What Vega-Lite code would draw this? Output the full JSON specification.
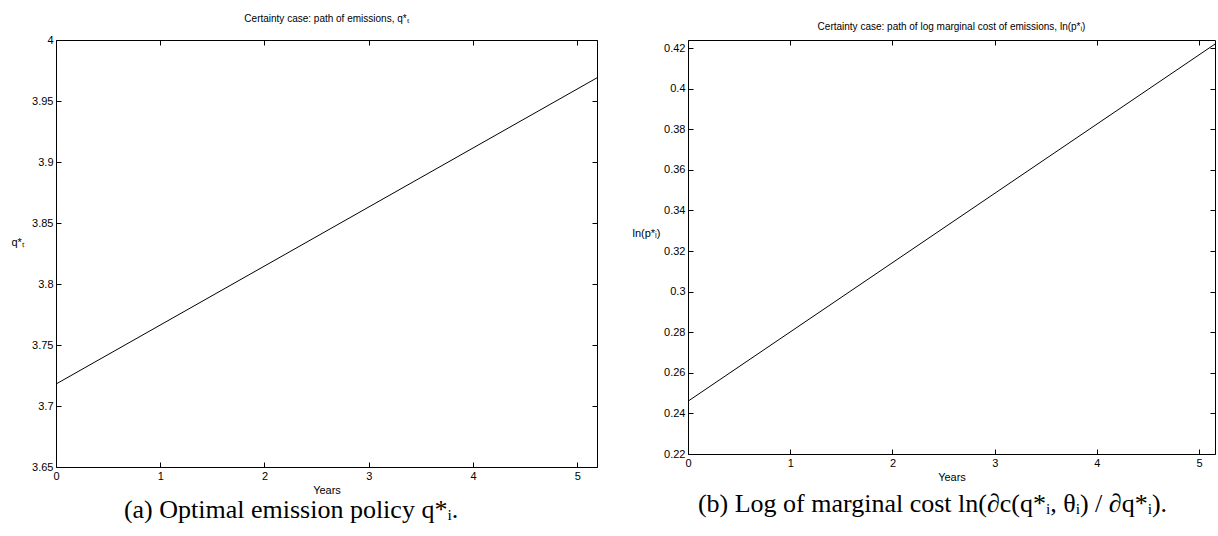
{
  "$schema": "https://vega.github.io/schema/vega-lite/v6.json",
  "padding": {"left": 10, "top": 8, "right": 0, "bottom": 0},
  "background": "white",
  "datasets": {
    "emis": [{"year": 0, "q": 3.718}, {"year": 5.19, "q": 3.969}],
    "cost": [{"year": 0, "lp": 0.246}, {"year": 5.155, "lp": 0.422}]
  },
  "config": {
    "view": {"stroke": "black", "strokeWidth": 1},
    "font": "Liberation Sans",
    "axis": {
      "grid": false,
      "domain": false,
      "tickColor": "black",
      "tickSize": -5,
      "labelFont": "Liberation Sans",
      "labelFontSize": 11,
      "labelColor": "black",
      "labelPadding": 8,
      "titleFont": "Liberation Sans",
      "titleFontSize": 11,
      "titleFontWeight": "normal",
      "titleColor": "black"
    },
    "title": {"font": "Liberation Sans", "fontSize": 10, "fontWeight": "normal", "color": "black"}
  },
  "spacing": 31,
  "hconcat": [
    {
      "title": {"text": "(a)  Optimal emission policy q*ᵢ.", "orient": "bottom", "anchor": "middle", "font": "Liberation Serif", "fontSize": 26, "offset": 1, "dx": -14},
      "vconcat": [
        {
          "title": {"text": "Certainty case: path of emissions, q*ₜ", "anchor": "middle", "offset": 10},
          "width": 541,
          "height": 427,
          "data": {"name": "emis"},
          "layer": [
            {
              "mark": {"type": "line", "color": "black", "strokeWidth": 1},
              "encoding": {
                "x": {"field": "year", "type": "quantitative", "scale": {"domain": [0, 5.19], "nice": false, "zero": false},
                  "axis": {"values": [0, 1, 2, 3, 4, 5], "title": "Years", "titlePadding": 3, "labelFlush": false}},
                "y": {"field": "q", "type": "quantitative", "scale": {"domain": [3.65, 4], "nice": false, "zero": false},
                  "axis": {"values": [3.65, 3.7, 3.75, 3.8, 3.85, 3.9, 3.95, 4], "format": "~r", "title": "q*ₜ", "titleAngle": 0, "titleAlign": "left", "titleBaseline": "middle", "titleX": -45, "titleY": 202, "labelFlush": false}}
              }
            },
            {
              "mark": {"type": "line", "opacity": 0},
              "encoding": {
                "x": {"field": "year", "type": "quantitative", "axis": {"orient": "top", "values": [0, 1, 2, 3, 4, 5], "labels": false, "title": null}},
                "y": {"field": "q", "type": "quantitative", "axis": {"orient": "right", "values": [3.65, 3.7, 3.75, 3.8, 3.85, 3.9, 3.95, 4], "labels": false, "title": null}}
              }
            }
          ],
          "resolve": {"axis": {"x": "independent", "y": "independent"}}
        }
      ]
    },
    {
      "title": {"text": "(b)  Log of marginal cost ln(∂c(q*ᵢ, θᵢ) / ∂q*ᵢ).", "orient": "bottom", "anchor": "middle", "font": "Liberation Serif", "fontSize": 26, "offset": 8, "dx": 8},
      "vconcat": [
        {
          "title": {"text": ["", "Certainty case: path of log marginal cost of emissions, ln(p*ᵢ)"], "anchor": "middle", "offset": 8, "lineHeight": 13},
          "width": 527,
          "height": 414,
          "data": {"name": "cost"},
          "layer": [
            {
              "mark": {"type": "line", "color": "black", "strokeWidth": 1},
              "encoding": {
                "x": {"field": "year", "type": "quantitative", "scale": {"domain": [0, 5.155], "nice": false, "zero": false},
                  "axis": {"values": [0, 1, 2, 3, 4, 5], "title": "Years", "titlePadding": 3, "labelFlush": false}},
                "y": {"field": "lp", "type": "quantitative", "scale": {"domain": [0.22, 0.424], "nice": false, "zero": false},
                  "axis": {"values": [0.22, 0.24, 0.26, 0.28, 0.3, 0.32, 0.34, 0.36, 0.38, 0.4, 0.42], "format": "~r", "title": "ln(p*ᵢ)", "titleAngle": 0, "titleAlign": "left", "titleBaseline": "middle", "titleX": -56, "titleY": 193, "labelFlush": false}}
              }
            },
            {
              "mark": {"type": "line", "opacity": 0},
              "encoding": {
                "x": {"field": "year", "type": "quantitative", "axis": {"orient": "top", "values": [0, 1, 2, 3, 4, 5], "labels": false, "title": null}},
                "y": {"field": "lp", "type": "quantitative", "axis": {"orient": "right", "values": [0.22, 0.24, 0.26, 0.28, 0.3, 0.32, 0.34, 0.36, 0.38, 0.4, 0.42], "labels": false, "title": null}}
              }
            }
          ],
          "resolve": {"axis": {"x": "independent", "y": "independent"}}
        }
      ]
    }
  ]
}
